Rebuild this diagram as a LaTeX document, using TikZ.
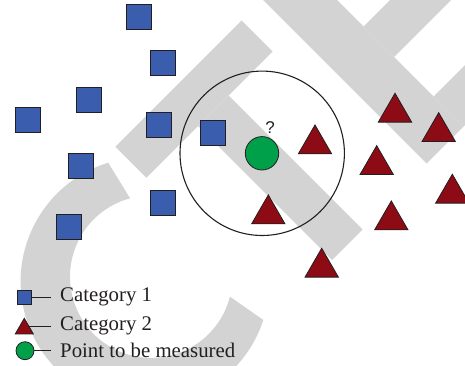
\documentclass[tikz,border=0pt]{standalone}
\usepackage{fontspec}
\setmainfont{Liberation Serif}
\newfontfamily\qfont{Liberation Sans}
\usetikzlibrary{shapes.geometric}
\definecolor{catblue}{HTML}{3A5DAD}
\definecolor{catred}{HTML}{8C0B14}
\definecolor{ptgreen}{HTML}{00A04B}
\definecolor{ink}{HTML}{231F20}
\definecolor{wmgray}{HTML}{D3D3D3}
\begin{document}
\begin{tikzpicture}[x=1pt,y=-1pt,
  wm/.style={fill=wmgray},
  sqr/.style={rectangle, draw=ink, fill=catblue, line width=0.8pt, minimum size=25pt, inner sep=0pt},
  tri/.style={regular polygon, regular polygon sides=3, draw=ink, fill=catred, line width=0.8pt, minimum size=38.5pt, inner sep=0pt},
  probe/.style={circle, draw=ink, fill=ptgreen, line width=0.8pt, minimum size=33.4pt, inner sep=0pt},
  lsqr/.style={sqr, minimum size=13.3pt},
  ltri/.style={tri, minimum size=20.8pt},
  lprobe/.style={probe, minimum size=18pt},
  lline/.style={draw=ink, line width=0.8pt},
  ltext/.style={anchor=base west, inner sep=0pt, text=ink, font=\fontsize{20.8}{24}\selectfont}
]
\useasboundingbox (0,0) rectangle (465,366);
\begin{scope}
  \clip (0,0) rectangle (465,366);
  % light background bands
  \fill[wm] (241.5,20.5) -- (272.5,51.5) -- (146.25,177.75) -- (115.25,146.75) -- cycle;
  \fill[wm] (228.5,95.5) -- (362.5,229.5) -- (332,260) -- (198,126) -- cycle;
  \fill[wm] (233,-30) -- (426.5,163.5) -- (463.5,126.5) -- (307,-30) -- cycle;
  \fill[wm] (363.5,26.5) -- (495,-105) -- (525.5,-74.5) -- (394,57) -- cycle;
  \fill[wm] (433.5,96.5) -- (565,-35) -- (595,-5) -- (463.5,126.5) -- cycle;
  \fill[wm] (108.2,162.7) arc[start angle=252.8, end angle=18, radius=124.4]
    -- (229.9,296.6) arc[start angle=14.2, end angle=254.9, radius=81.2] -- cycle;

  % neighbourhood of the query point
  \node[circle, draw=ink, line width=1.1pt, minimum size=164.4pt, inner sep=0pt] (nbhd) at (262.2,153.3) {};

  % category 1 samples
  \node[sqr] (s1) at (139,17.3) {};
  \node[sqr] (s2) at (163.3,62.7) {};
  \node[sqr] (s3) at (89.3,99.7) {};
  \node[sqr] (s4) at (28,120.3) {};
  \node[sqr] (s5) at (159.3,124.7) {};
  \node[sqr] (s6) at (212.7,132.7) {};
  \node[sqr] (s7) at (81.3,165.7) {};
  \node[sqr] (s8) at (163.3,202.7) {};
  \node[sqr] (s9) at (69,227.3) {};

  % category 2 samples
  \node[tri] (t1) at (315,144.2) {};
  \node[tri] (t2) at (268.3,214.2) {};
  \node[tri] (t3) at (321.7,267.5) {};
  \node[tri] (t4) at (395,112.5) {};
  \node[tri] (t5) at (438.7,131.9) {};
  \node[tri] (t6) at (376.7,164.9) {};
  \node[tri] (t7) at (452.3,193.5) {};
  \node[tri] (t8) at (391.3,220.2) {};

  % query point
  \node[probe] (q) at (262,153.3) {};
  \node[anchor=base, inner sep=0pt, text=ink, font=\qfont\fontsize{17}{20}\selectfont] (qmark) at (270,133.3) {?};
\end{scope}

% legend
\node[lsqr] (ls) at (24.3,297.3) {};
\node[ltri] (lt) at (24.3,328.7) {};
\node[lprobe] (lc) at (25,350.7) {};
\coordinate (le1) at (51,297.3);
\coordinate (le2) at (51,326.1);
\coordinate (le3) at (51,350.7);
\draw[lline] (ls.east) -- (le1);
\draw[lline] (lt.side 3) -- (lt.side 3 -| le2);
\draw[lline] (lc.east) -- (le3);
\node[ltext] (lab1) at (60,301.3) {Category 1};
\node[ltext] (lab2) at (60,330.3) {Category 2};
\node[ltext] (lab3) at (60,357) {Point to be measured};
\end{tikzpicture}
\end{document}
